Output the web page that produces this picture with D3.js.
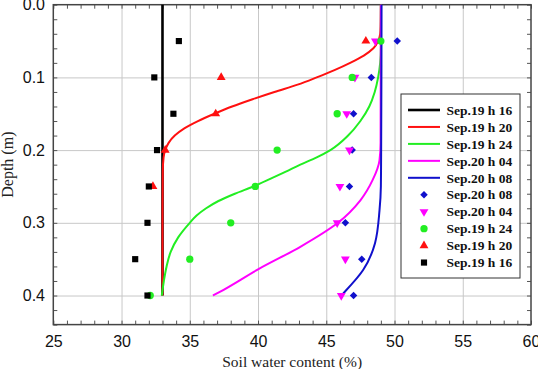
<!DOCTYPE html>
<html><head><meta charset="utf-8">
<script src="https://cdn.jsdelivr.net/npm/d3@7"></script>
<style>body{margin:0;background:#fff}svg{display:block}</style>
</head><body>
<svg id="c" width="538" height="369"></svg>
<script>
// ---- data ----
const xTicks = [25, 30, 35, 40, 45, 50, 55, 60];
const yTicks = [0.0, 0.1, 0.2, 0.3, 0.4];
const yTickLabels = ["0.0", "0.1", "0.2", "0.3", "0.4"];

// simulated profiles (depth m -> water content %)
const depthBlack = [0, 0.4];
const black = [33.0, 33.0];
const depthRed = [0, 0.03, 0.04, 0.05, 0.06, 0.07, 0.08, 0.09, 0.1, 0.11, 0.12, 0.13, 0.14, 0.15, 0.16, 0.17, 0.18, 0.19, 0.2, 0.21, 0.23, 0.3, 0.4];
const red = [49.0, 48.98, 48.95, 48.8, 48.45, 47.75, 46.75, 45.6, 44.3, 42.9, 41.2, 39.6, 38.1, 36.8, 35.6, 34.6, 33.9, 33.45, 33.2, 33.08, 33.02, 33.0, 33.0];
const depthGreen = [0, 0.06, 0.08, 0.1, 0.12, 0.14, 0.16, 0.18, 0.2, 0.21, 0.22, 0.23, 0.24, 0.25, 0.26, 0.27, 0.28, 0.29, 0.3, 0.32, 0.34, 0.36, 0.38, 0.4];
const green = [49.0, 49.0, 48.95, 48.8, 48.55, 48.15, 47.5, 46.6, 45.3, 44.3, 43.1, 42.0, 40.85, 39.65, 38.3, 37.1, 36.2, 35.5, 35.0, 34.15, 33.6, 33.3, 33.1, 32.95];
const depthMagenta = [0, 0.19, 0.214, 0.241, 0.269, 0.3, 0.333, 0.363, 0.395, 0.4];
const magenta = [49.0, 48.98, 48.9, 48.4, 47.5, 45.85, 43.1, 40.1, 37.2, 36.7];
const depthBlue = [0, 0.2, 0.25, 0.283, 0.328, 0.365, 0.397, 0.4];
const blue = [49.05, 49.02, 49.0, 48.9, 48.57, 47.7, 46.25, 46.1];

// measured points
const depthObs = [0.05, 0.1, 0.15, 0.2, 0.25, 0.3, 0.35, 0.4];
const obsBlue = [50.2, 48.3, 47.0, 46.9, 46.7, 46.4, 47.6, 47.0];      // Sep.20 h 08
const obsMagenta = [48.6, 47.1, 46.5, 46.7, 46.0, 45.8, 46.4, 46.1];   // Sep.20 h 04
const obsGreen = [49.0, 46.9, 45.8, 41.4, 39.8, 38.0, 35.0, 32.1];     // Sep.19 h 24
const depthObsRed = [0.05, 0.1, 0.15, 0.2, 0.25];
const obsRed = [47.9, 37.3, 36.9, 33.2, 32.3];                          // Sep.19 h 20
const obsBlack = [34.2, 32.4, 33.8, 32.6, 32.0, 31.9, 31.0, 31.9];      // Sep.19 h 16

const lineNames = ["Sep.19 h 16", "Sep.19 h 20", "Sep.19 h 24", "Sep.20 h 04", "Sep.20 h 08"];
const pointNames = ["Sep.20 h 08", "Sep.20 h 04", "Sep.19 h 24", "Sep.19 h 20", "Sep.19 h 16"];

// ---- chart ----
const svg = d3.select("#c");
const L = 53.3, R = 531, T = 4.7, B = 324.6;
const x = d3.scaleLinear().domain([25, 60]).range([L, R]);
const y = d3.scaleLinear().domain([0, 0.44]).range([T, B]);
const H = B - T, W = R - L;

const colors = {black: "#000000", red: "#ff1010", green: "#22ee22", magenta: "#ff00ff", blue: "#1010cc"};

// grid
svg.append("g").attr("transform", `translate(0,${B})`)
  .call(d3.axisBottom(x).tickValues(xTicks.slice(1, -1)).tickSize(-H).tickFormat(""))
  .call(g => { g.select(".domain").remove(); g.selectAll("line").attr("stroke", "#c8c8c8"); });
svg.append("g").attr("transform", `translate(${L},0)`)
  .call(d3.axisLeft(y).tickValues(yTicks.slice(1)).tickSize(-W).tickFormat(""))
  .call(g => { g.select(".domain").remove(); g.selectAll("line").attr("stroke", "#c8c8c8"); });

// minor ticks (inward) on all four sides
const xMinor = d3.range(25, 60.01, 1);
const yMinor = d3.range(0, 0.441, 0.02);
function styleTicks(g) { g.select(".domain").remove(); g.selectAll("line").attr("stroke", "#555"); }
svg.append("g").attr("transform", `translate(0,${B})`)
  .call(d3.axisBottom(x).tickValues(xMinor).tickSize(-4).tickFormat("")).call(styleTicks);
svg.append("g").attr("transform", `translate(0,${T})`)
  .call(d3.axisTop(x).tickValues(xMinor).tickSize(-4).tickFormat("")).call(styleTicks);
svg.append("g").attr("transform", `translate(${L},0)`)
  .call(d3.axisLeft(y).tickValues(yMinor).tickSize(-4).tickFormat("")).call(styleTicks);
svg.append("g").attr("transform", `translate(${R},0)`)
  .call(d3.axisRight(y).tickValues(yMinor).tickSize(-4).tickFormat("")).call(styleTicks);

// tick labels
svg.append("g").attr("transform", `translate(0,${B})`)
  .call(d3.axisBottom(x).tickValues(xTicks).tickSize(0).tickPadding(11.5).tickFormat(d3.format("d")))
  .call(g => { g.select(".domain").remove(); g.selectAll("text").attr("font-family", "'Liberation Sans', Arial, sans-serif").attr("font-size", 16).attr("fill", "#111"); });
svg.append("g").attr("transform", `translate(${L},0)`)
  .call(d3.axisLeft(y).tickValues(yTicks).tickSize(0).tickPadding(8.3).tickFormat((d, i) => yTickLabels[i]))
  .call(g => { g.select(".domain").remove(); g.selectAll("text").attr("font-family", "'Liberation Sans', Arial, sans-serif").attr("font-size", 16).attr("fill", "#111"); });

// frame
svg.append("rect").attr("x", L).attr("y", T).attr("width", W).attr("height", H)
  .attr("fill", "none").attr("stroke", "#444").attr("stroke-width", 1.5);

// axis titles
svg.append("text").attr("x", (L + R) / 2).attr("y", 366.5).attr("text-anchor", "middle")
  .attr("font-family", "'Liberation Serif', 'Times New Roman', serif").attr("font-size", 15.5).attr("fill", "#222")
  .text("Soil water content (%)");
svg.append("text").attr("transform", `translate(12.5,${(T + B) / 2}) rotate(-90)`).attr("text-anchor", "middle")
  .attr("font-family", "'Liberation Serif', 'Times New Roman', serif").attr("font-size", 16).attr("fill", "#222")
  .text("Depth (m)");

// curves
const lineGen = d3.line().x(d => x(d[1])).y(d => y(d[0])).curve(d3.curveMonotoneY);
const curves = [
  [depthBlack, black, colors.black, 2.6],
  [depthRed, red, colors.red, 2],
  [depthGreen, green, colors.green, 2],
  [depthMagenta, magenta, colors.magenta, 2],
  [depthBlue, blue, colors.blue, 2]
];
curves.forEach(([dep, val, col, w]) => {
  svg.append("path").datum(dep.map((d, i) => [d, val[i]]))
    .attr("d", lineGen).attr("fill", "none").attr("stroke", col).attr("stroke-width", w);
});

// points
const sym = {
  diamond: d3.symbol().type(d3.symbolSquare).size(28),
  invTri: d3.symbol().type(d3.symbolTriangle).size(34),
  circle: d3.symbol().type(d3.symbolCircle).size(42),
  tri: d3.symbol().type(d3.symbolTriangle).size(34),
  square: d3.symbol().type(d3.symbolSquare).size(38)
};
function symTransform(kind, px, py) {
  if (kind === "invTri") return `translate(${px},${py}) rotate(180)`;
  if (kind === "diamond") return `translate(${px},${py}) rotate(45)`;
  return `translate(${px},${py})`;
}
const pointSets = [
  [depthObs, obsBlue, colors.blue, "diamond"],
  [depthObs, obsMagenta, colors.magenta, "invTri"],
  [depthObs, obsGreen, colors.green, "circle"],
  [depthObsRed, obsRed, colors.red, "tri"],
  [depthObs, obsBlack, colors.black, "square"]
];
pointSets.forEach(([dep, val, col, kind]) => {
  svg.append("g").selectAll("path").data(dep.map((d, i) => [d, val[i]])).join("path")
    .attr("d", sym[kind]()).attr("fill", col)
    .attr("transform", d => symTransform(kind, x(d[1]), y(d[0])));
});

// legend
const lg = svg.append("g");
lg.append("rect").attr("x", 401).attr("y", 94).attr("width", 119).attr("height", 184)
  .attr("fill", "#fff").attr("stroke", "#333").attr("stroke-width", 1);
const lineCols = [colors.black, colors.red, colors.green, colors.magenta, colors.blue];
const ptSpec = [[colors.blue, "diamond"], [colors.magenta, "invTri"], [colors.green, "circle"], [colors.red, "tri"], [colors.black, "square"]];
const items = lineNames.map((n, i) => ({name: n, type: "line", col: lineCols[i], w: i === 0 ? 2.6 : 2}))
  .concat(pointNames.map((n, i) => ({name: n, type: "pt", col: ptSpec[i][0], kind: ptSpec[i][1]})));
items.forEach((it, i) => {
  const yy = 110 + i * 16.95;
  if (it.type === "line") {
    lg.append("line").attr("x1", 408).attr("x2", 440).attr("y1", yy).attr("y2", yy)
      .attr("stroke", it.col).attr("stroke-width", it.w);
  } else {
    lg.append("path").attr("d", sym[it.kind]()).attr("fill", it.col)
      .attr("transform", symTransform(it.kind, 424, yy));
  }
  lg.append("text").attr("x", 446.5).attr("y", yy).attr("dy", "0.35em")
    .attr("font-family", "'Liberation Serif', 'Times New Roman', serif").attr("font-weight", "bold")
    .attr("font-size", 13.5).attr("fill", "#111").text(it.name);
});
</script>
</body></html>
